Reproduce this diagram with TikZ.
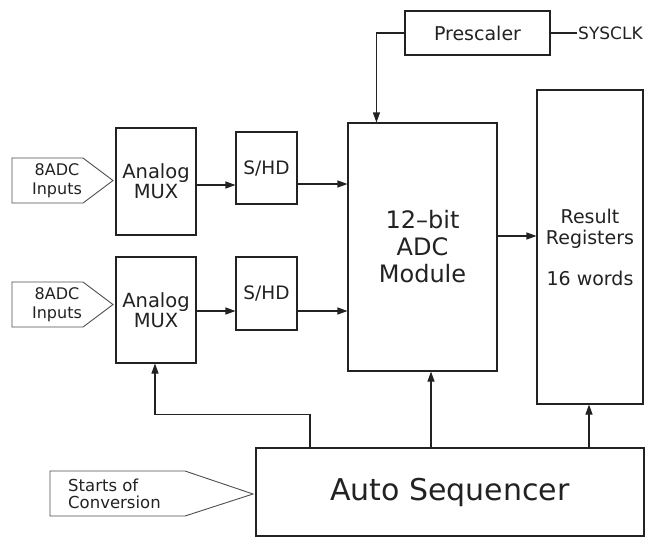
\documentclass[tikz,border=0pt]{standalone}
\usepackage{fontspec}
\setmainfont{DejaVu Sans}
\usetikzlibrary{arrows.meta}
\definecolor{ink}{HTML}{222222}
\begin{document}
\begin{tikzpicture}[x=1pt,y=-1pt,
  box/.style={draw=ink, line width=1.1pt, inner sep=0pt, align=center, text=ink},
  lbl/.style={inner sep=1pt, text=ink},
  arr/.style={draw=ink, line width=1.1pt, -{Triangle[length=10pt,width=7pt]}},
  wire/.style={draw=ink, line width=1.1pt},
  pent/.style={draw=ink!80, line width=0.9pt},
  fmux/.style={font=\fontsize{19.5}{20}\selectfont},
  fshd/.style={font=\fontsize{18.5}{20}\selectfont},
  fin/.style={font=\fontsize{16}{19}\selectfont},
]
\useasboundingbox (0,0) rectangle (663,536);
\fill[white] (0,0) rectangle (663,536);

% boxes
\node[box, minimum width=145, minimum height=44, font=\fontsize{19}{20}\selectfont] (pre) at (477.5,33) {Prescaler};
\node[lbl, anchor=west, font=\fontsize{17}{18}\selectfont] (sys) at (577,33) {SYSCLK};
\node[box, minimum width=149, minimum height=248, font=\fontsize{24}{27}\selectfont] (adc) at (422.5,247) {12--bit\\ADC\\Module};
\node[box, minimum width=106, minimum height=314, font=\fontsize{19}{21}\selectfont] (res) at (590,247) {Result\\Registers\\[20pt]16 words};
\node[box, fmux, minimum width=80, minimum height=107] (mux1) at (156,181.5) {Analog\\MUX};
\node[box, fshd, minimum width=61, minimum height=72] (shd1) at (266.5,168) {S/HD};
\node[box, fmux, minimum width=80, minimum height=106] (mux2) at (156,310) {Analog\\MUX};
\node[box, fshd, minimum width=61, minimum height=73] (shd2) at (266.5,293.5) {S/HD};
\node[box, minimum width=388, minimum height=88, font=\fontsize{30}{32}\selectfont] (auto) at (450,492) {Auto Sequencer};

% input pentagons
\draw[pent] (12,158) -- (83,158) -- (113,180.5) -- (83,203) -- (12,203) -- cycle;
\node[lbl, fin, align=center] (in1) at (57,180.5) {8ADC\\Inputs};
\draw[pent] (12,282) -- (83,282) -- (113,304.5) -- (83,327) -- (12,327) -- cycle;
\node[lbl, fin, align=center] (in2) at (57,304.5) {8ADC\\Inputs};
\draw[pent] (50,471) -- (185,471) -- (253,494) -- (185,516) -- (50,516) -- cycle;
\node[lbl, anchor=west, align=left, font=\fontsize{16.5}{17.5}\selectfont] (soc) at (67,494) {Starts of\\Conversion};

% connectors
\draw[wire] (pre.east) -- (sys.west);
\draw[arr] (pre.west) -| ([xshift=29]adc.north west);
\draw[arr] ([yshift=-3.5]mux1.east) -- ([yshift=-3.5]mux1.east -| shd1.west);
\draw[arr] ([yshift=-16]shd1.east) -- ([yshift=-16]shd1.east -| adc.west);
\draw[arr] ([yshift=-1]mux2.east) -- ([yshift=-1]mux2.east -| shd2.west);
\draw[arr] ([yshift=-17.5]shd2.east) -- ([yshift=-17.5]shd2.east -| adc.west);
\draw[arr] ([yshift=11]adc.east) -- ([yshift=11]adc.east -| res.west);
\draw[arr] ([xshift=-140]auto.north) -- ++(0,-33) -| ([xshift=-1]mux2.south);
\draw[arr] ([xshift=-19]auto.north) -- ([xshift=-19]auto.north |- adc.south);
\draw[arr] ([xshift=-1]auto.north -| res.south) -- ([xshift=-1]res.south);
\end{tikzpicture}
\end{document}
